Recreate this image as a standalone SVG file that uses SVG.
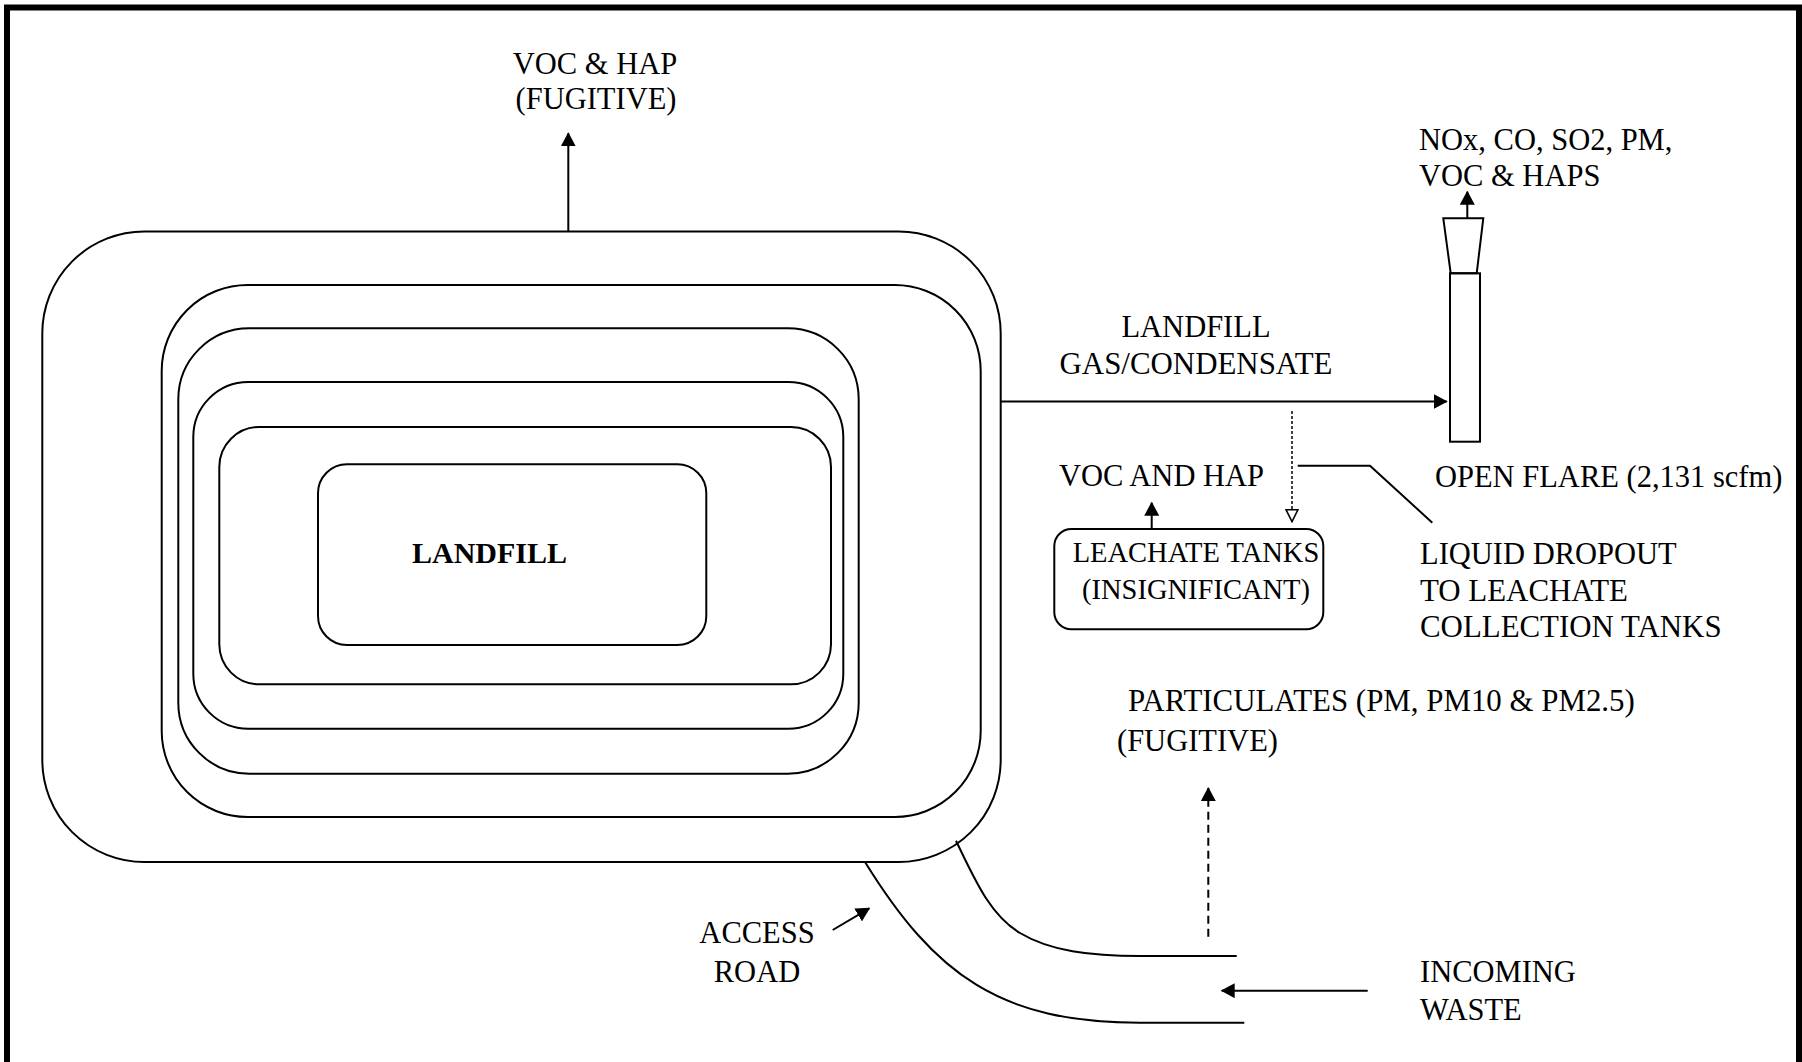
<svg xmlns="http://www.w3.org/2000/svg" width="1802" height="1062" viewBox="0 0 1802 1062">
<style>
  .ln { fill: none; stroke: #000; stroke-width: 2; }
  .t { font-family: "Liberation Serif", "Times New Roman", serif; font-size: 30.5px; fill: #000; }
  .s28 { font-size: 28.5px; }
  .s31 { font-size: 30.9px; }
  .b { font-weight: bold; font-size: 30px; }
  .mid { text-anchor: middle; }
  .dash { stroke-dasharray: 8 5; }
  .dot { stroke-dasharray: 3 2; stroke-width: 1.5; }
</style>
<defs>
  <marker id="ah" viewBox="0 0 14 15" refX="13" refY="7.5" markerWidth="14" markerHeight="15" markerUnits="userSpaceOnUse" orient="auto">
    <path d="M0,0 L14,7.5 L0,15 Z" fill="#000"/>
  </marker>
  <marker id="ao" viewBox="0 0 14 14" refX="13" refY="7" markerWidth="14" markerHeight="14" markerUnits="userSpaceOnUse" orient="auto">
    <path d="M1,1 L13,7 L1,13 Z" fill="#fff" stroke="#000" stroke-width="1.5"/>
  </marker>
</defs>
<rect width="1802" height="1062" fill="#fff"/>
<g id="frame">
  <rect x="7" y="7.5" width="1792" height="1100" fill="none" stroke="#000" stroke-width="6"/>
</g>
<g id="landfill">
  <rect class="ln" x="42.3" y="231.5" width="958.4" height="630.5" rx="102" ry="102"/>
  <rect class="ln" x="161.7" y="285" width="819" height="532" rx="86" ry="86"/>
  <rect class="ln" x="178.3" y="328.3" width="680.4" height="445.4" rx="71" ry="71"/>
  <rect class="ln" x="193.3" y="382" width="650" height="346.7" rx="55" ry="55"/>
  <rect class="ln" x="219.3" y="427" width="611.7" height="257.3" rx="40" ry="40"/>
  <rect class="ln" x="318" y="464.3" width="388.3" height="180.7" rx="29" ry="29"/>
  <text class="t b" x="412" y="563">LANDFILL</text>
</g>
<g id="voc-fugitive">
  <text class="t mid" x="595" y="74">VOC &amp; HAP</text>
  <text class="t mid" x="596" y="109">(FUGITIVE)</text>
</g>
<g id="flare">
  <polygon class="ln" points="1443.3,218.3 1483.3,218.3 1476.7,273.3 1450.7,273.3"/>
  <rect class="ln" x="1450" y="273.3" width="30" height="168.4"/>
  <text class="t" x="1435" y="487">OPEN FLARE (2,131 scfm)</text>
</g>
<g id="flare-emissions">
  <text class="t" x="1419" y="150">NOx, CO, SO2, PM,</text>
  <text class="t" x="1419" y="186">VOC &amp; HAPS</text>
</g>
<g id="gas-label">
  <text class="t mid" x="1196" y="337">LANDFILL</text>
  <text class="t s31 mid" x="1196" y="374">GAS/CONDENSATE</text>
</g>
<g id="leachate-tanks">
  <rect class="ln" x="1054.3" y="529" width="269" height="100.3" rx="17" ry="17"/>
  <text class="t s28 mid" x="1196" y="562">LEACHATE TANKS</text>
  <text class="t s28 mid" x="1196" y="599">(INSIGNIFICANT)</text>
</g>
<g id="voc-and-hap">
  <text class="t" x="1059" y="486">VOC AND HAP</text>
</g>
<g id="liquid-dropout">
  <text class="t" x="1420" y="564">LIQUID DROPOUT</text>
  <text class="t s31" x="1420" y="600.5">TO LEACHATE</text>
  <text class="t s31" x="1420" y="637">COLLECTION TANKS</text>
</g>
<g id="particulates">
  <text class="t s31" x="1128" y="711">PARTICULATES (PM, PM10 &amp; PM2.5)</text>
  <text class="t" x="1117" y="751">(FUGITIVE)</text>
</g>
<g id="access-road">
  <path class="ln" d="M865,862 C935,975 1000,1022.7 1140,1022.7 L1244.3,1022.7"/>
  <path class="ln" d="M956,840.7 C975,880 990,915 1020,933 C1050,951 1090,956 1140,956 L1236.7,956"/>
  <text class="t mid" x="757" y="943">ACCESS</text>
  <text class="t mid" x="757" y="982">ROAD</text>
</g>
<g id="incoming-waste">
  <text class="t" x="1420" y="982">INCOMING</text>
  <text class="t" x="1420" y="1020">WASTE</text>
</g>
<g id="connectors">
  <line class="ln" x1="568.3" y1="231.5" x2="568.3" y2="133.3" marker-end="url(#ah)"/>
  <line class="ln" x1="1000.7" y1="401.5" x2="1446.7" y2="401.5" marker-end="url(#ah)"/>
  <line class="ln" x1="1467.3" y1="218.3" x2="1467.3" y2="191.7" marker-end="url(#ah)"/>
  <line class="ln dot" x1="1292" y1="411" x2="1292" y2="521.7" marker-end="url(#ao)"/>
  <line class="ln" x1="1151.7" y1="529" x2="1151.7" y2="502.7" marker-end="url(#ah)"/>
  <polyline class="ln" points="1297.7,465.7 1370,465.7 1432.3,522.7"/>
  <line class="ln dash" x1="1208.3" y1="936.7" x2="1208.3" y2="788" marker-end="url(#ah)"/>
  <line class="ln" x1="1367.7" y1="990.7" x2="1221.7" y2="990.7" marker-end="url(#ah)"/>
  <line class="ln" x1="832.7" y1="930" x2="869.3" y2="908.3" marker-end="url(#ah)"/>
</g>
</svg>
